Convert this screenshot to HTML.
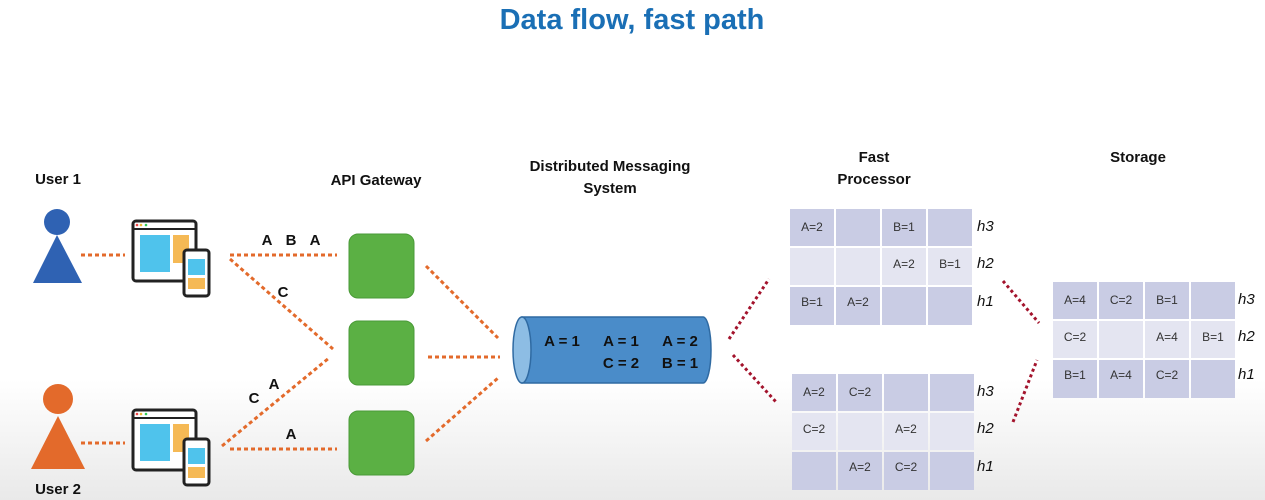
<!DOCTYPE html>
<html><head><style>
body{margin:0;width:1265px;height:500px;overflow:hidden;background:linear-gradient(#fff 0,#fff 380px,#e9e9e9 500px);font-family:"Liberation Sans",sans-serif}
svg{position:absolute;left:0;top:0}
.t{font-weight:bold;font-size:15px;fill:#111;text-anchor:middle}
.c{font-size:12px;fill:#333;text-anchor:middle}
.h{font-size:15px;font-style:italic;fill:#111}
.cy{font-weight:bold;font-size:15px;fill:#111;text-anchor:middle}
</style></head><body>
<svg width="1265" height="500">
<text x="632" y="29" text-anchor="middle" font-size="29" font-weight="bold" fill="#1a6fb5">Data flow, fast path</text>
<text class="t" x="58" y="184">User 1</text>
<text class="t" x="58" y="494">User 2</text>
<text class="t" x="376" y="185">API Gateway</text>
<text class="t" x="610" y="171">Distributed Messaging</text>
<text class="t" x="610" y="193">System</text>
<text class="t" x="874" y="162">Fast</text>
<text class="t" x="874" y="184">Processor</text>
<text class="t" x="1138" y="162">Storage</text>
<!-- users -->
<circle cx="57" cy="222" r="13" fill="#2f62b3"/><polygon points="57,235 33,283 82,283" fill="#2f62b3"/>
<circle cx="58" cy="399" r="15" fill="#e36a2b"/><polygon points="58,416 31,469 85,469" fill="#e36a2b"/>
<!-- devices -->
<g id="dev">
<rect x="133" y="221" width="63" height="60" rx="3" fill="#fff" stroke="#222" stroke-width="3"/>
<line x1="133" y1="229" x2="196" y2="229" stroke="#222" stroke-width="2"/>
<circle cx="137" cy="225" r="1.3" fill="#e44"/><circle cx="141" cy="225" r="1.3" fill="#eb3"/><circle cx="146" cy="225" r="1.3" fill="#3c5"/>
<rect x="140" y="235" width="30" height="37" fill="#4fc3ec"/>
<rect x="173" y="235" width="16" height="28" fill="#f5b955"/>
<rect x="184" y="250" width="25" height="46" rx="3" fill="#fff" stroke="#222" stroke-width="3"/>
<rect x="188" y="259" width="17" height="16" fill="#4fc3ec"/>
<rect x="188" y="278" width="17" height="11" fill="#f5b955"/>
</g>
<use href="#dev" transform="translate(0,189)"/>
<!-- orange lines -->
<g stroke="#e36a2b" stroke-width="3" stroke-dasharray="4 3" fill="none">
<line x1="81" y1="255" x2="125" y2="255"/>
<line x1="81" y1="443" x2="125" y2="443"/>
<line x1="230" y1="255" x2="337" y2="255"/>
<line x1="230" y1="259" x2="333" y2="349"/>
<line x1="222" y1="446" x2="329" y2="358"/>
<line x1="230" y1="449" x2="337" y2="449"/>
<line x1="426" y1="266" x2="498" y2="338"/>
<line x1="428" y1="357" x2="500" y2="357"/>
<line x1="426" y1="441" x2="498" y2="378"/>
</g>
<text class="t" x="267" y="245">A</text><text class="t" x="291" y="245">B</text><text class="t" x="315" y="245">A</text>
<text class="t" x="283" y="297">C</text>
<text class="t" x="274" y="389">A</text><text class="t" x="254" y="403">C</text>
<text class="t" x="291" y="439">A</text>
<!-- green boxes -->
<rect x="349" y="234" width="65" height="64" rx="9" fill="#5bb044" stroke="#4a9a38"/>
<rect x="349" y="321" width="65" height="64" rx="9" fill="#5bb044" stroke="#4a9a38"/>
<rect x="349" y="411" width="65" height="64" rx="9" fill="#5bb044" stroke="#4a9a38"/>
<!-- cylinder -->
<path d="M522,317 L703,317 A8,33 0 0 1 703,383 L522,383 Z" fill="#4a8cc9" stroke="#2f6aa2" stroke-width="1.5"/>
<ellipse cx="522" cy="350" rx="9" ry="33" fill="#8dbde4" stroke="#2f6aa2" stroke-width="1.5"/>
<text class="cy" x="562" y="346">A = 1</text>
<text class="cy" x="621" y="346">A = 1</text><text class="cy" x="680" y="346">A = 2</text>
<text class="cy" x="621" y="368">C = 2</text><text class="cy" x="680" y="368">B = 1</text>
<!-- red lines -->
<g stroke="#a3132c" stroke-width="3" stroke-dasharray="3 3" fill="none">
<line x1="729" y1="339" x2="769" y2="279"/>
<line x1="733" y1="355" x2="777" y2="403"/>
<line x1="1003" y1="281" x2="1039" y2="323"/>
<line x1="1013" y1="422" x2="1037" y2="360"/>
</g>
<!-- grids -->
<g id="g1">
<rect x="790" y="209" width="44" height="37" fill="#c9cce4"/><rect x="836" y="209" width="44" height="37" fill="#c9cce4"/><rect x="882" y="209" width="44" height="37" fill="#c9cce4"/><rect x="928" y="209" width="44" height="37" fill="#c9cce4"/>
<rect x="790" y="248" width="44" height="37" fill="#e4e5f1"/><rect x="836" y="248" width="44" height="37" fill="#e4e5f1"/><rect x="882" y="248" width="44" height="37" fill="#e4e5f1"/><rect x="928" y="248" width="44" height="37" fill="#e4e5f1"/>
<rect x="790" y="287" width="44" height="38" fill="#c9cce4"/><rect x="836" y="287" width="44" height="38" fill="#c9cce4"/><rect x="882" y="287" width="44" height="38" fill="#c9cce4"/><rect x="928" y="287" width="44" height="38" fill="#c9cce4"/>
</g>
<text class="c" x="812" y="231">A=2</text><text class="c" x="904" y="231">B=1</text>
<text class="c" x="904" y="268">A=2</text><text class="c" x="950" y="268">B=1</text>
<text class="c" x="812" y="306">B=1</text><text class="c" x="858" y="306">A=2</text>
<text class="h" x="977" y="231">h3</text><text class="h" x="977" y="268">h2</text><text class="h" x="977" y="306">h1</text>
<use href="#g1" transform="translate(2,165)"/>
<text class="c" x="814" y="396">A=2</text><text class="c" x="860" y="396">C=2</text>
<text class="c" x="814" y="433">C=2</text><text class="c" x="906" y="433">A=2</text>
<text class="c" x="860" y="471">A=2</text><text class="c" x="906" y="471">C=2</text>
<text class="h" x="977" y="396">h3</text><text class="h" x="977" y="433">h2</text><text class="h" x="977" y="471">h1</text>
<use href="#g1" transform="translate(263,73)"/>
<text class="c" x="1075" y="304">A=4</text><text class="c" x="1121" y="304">C=2</text><text class="c" x="1167" y="304">B=1</text>
<text class="c" x="1075" y="341">C=2</text><text class="c" x="1167" y="341">A=4</text><text class="c" x="1213" y="341">B=1</text>
<text class="c" x="1075" y="379">B=1</text><text class="c" x="1121" y="379">A=4</text><text class="c" x="1167" y="379">C=2</text>
<text class="h" x="1238" y="304">h3</text><text class="h" x="1238" y="341">h2</text><text class="h" x="1238" y="379">h1</text>
</svg>
</body></html>
